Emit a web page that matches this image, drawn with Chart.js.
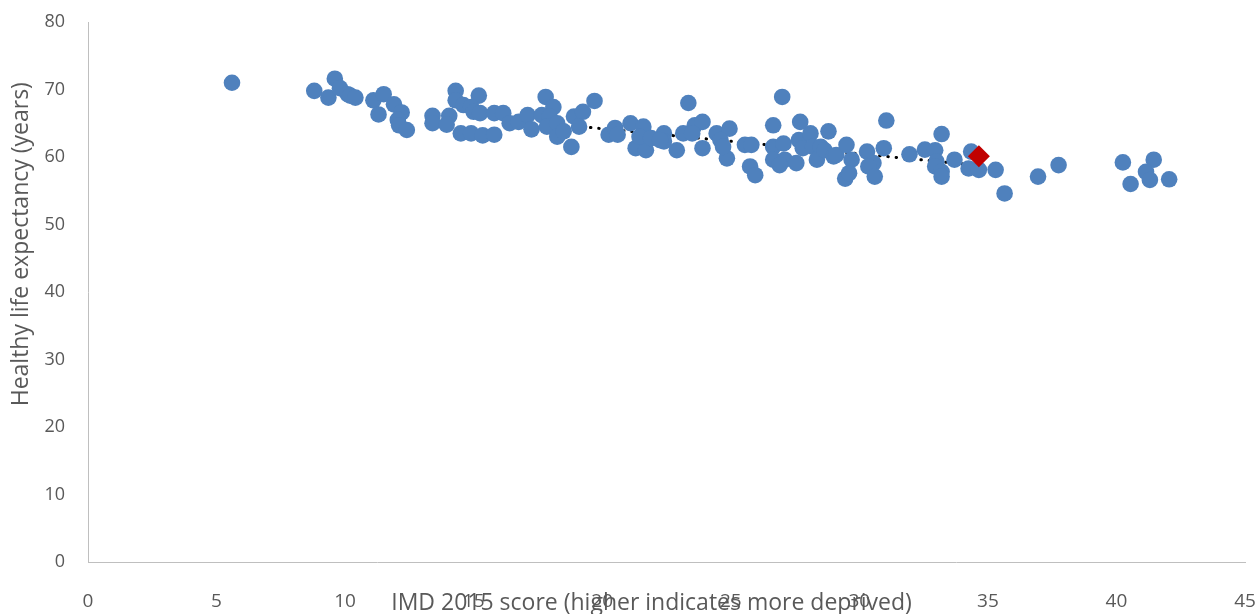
<!DOCTYPE html>
<html>
<head>
<meta charset="utf-8">
<script src="https://cdn.jsdelivr.net/npm/chart.js@4"></script>
<style>
  html, body { margin: 0; padding: 0; background: #fff; }
  #wrap { width: 1259px; height: 614px; }
</style>
</head>
<body>
<div id="wrap"><canvas id="grafico"></canvas></div>
<script>
// IMD 2015 score vs healthy life expectancy, one point per area
const imdScores = [
  5.6, 8.8, 9.35, 9.6, 9.8, 10.1, 10.2, 10.4, 11.1, 11.5,
  11.3, 11.9, 12.2, 12.05, 12.1, 12.4, 13.4, 13.4, 14.05, 13.95,
  14.3, 14.3, 14.6, 15.2, 14.9, 15.0, 15.25, 15.8, 14.5, 14.9,
  15.35, 15.8, 16.15, 16.4, 16.75, 17.1, 17.25, 17.8, 18.1, 17.65,
  17.95, 17.85, 18.25, 18.25, 18.5, 18.9, 19.25, 19.7, 18.8, 19.1,
  20.25, 20.5, 20.6, 21.1, 21.3, 21.6, 21.7, 21.45, 21.9, 22.4,
  22.4, 22.25, 22.9, 23.35, 23.15, 23.6, 23.9, 23.5, 23.9, 24.45,
  24.95, 24.6, 24.85, 24.7, 25.55, 25.8, 25.75, 25.95, 26.65, 27.0,
  26.65, 26.65, 27.05, 27.1, 26.9, 27.55, 27.7, 27.65, 27.8, 28.1,
  28.2, 28.5, 28.35, 28.8, 28.65, 29.0, 29.1, 29.5, 29.7, 29.45,
  29.6, 30.3, 30.55, 30.35, 30.6, 31.05, 30.95, 31.95, 32.55, 32.95,
  33.2, 33.0, 32.95, 33.2, 33.2, 33.7, 34.25, 34.35, 34.65, 35.3,
  35.65, 36.95, 37.75, 40.25, 41.45, 41.15, 40.55, 41.3, 42.05
];
const lifeExpectancy = [
  71.0, 69.8, 68.8, 71.6, 70.2, 69.3, 69.1, 68.8, 68.4, 69.3,
  66.3, 67.8, 66.6, 65.5, 64.7, 64.0, 66.1, 65.0, 66.1, 64.8,
  69.8, 68.4, 67.7, 69.1, 67.4, 66.7, 66.5, 66.5, 63.5, 63.5,
  63.2, 63.3, 66.5, 65.0, 65.2, 66.2, 64.1, 68.9, 67.4, 66.2,
  66.0, 64.5, 65.0, 63.0, 63.8, 66.0, 66.7, 68.3, 61.5, 64.5,
  63.3, 64.3, 63.3, 65.0, 61.3, 64.5, 61.0, 63.0, 62.8, 63.5,
  62.3, 62.5, 61.0, 68.0, 63.5, 64.7, 65.2, 63.5, 61.3, 63.5,
  64.2, 62.5, 59.8, 61.5, 61.8, 61.8, 58.6, 57.3, 64.7, 68.9,
  61.5, 59.6, 62.0, 59.6, 58.8, 59.1, 65.2, 62.5, 61.3, 63.5,
  61.5, 61.5, 59.6, 63.8, 61.0, 60.1, 60.3, 61.8, 59.6, 56.8,
  57.6, 60.8, 59.1, 58.6, 57.1, 65.4, 61.3, 60.4, 61.1, 61.0,
  63.4, 59.3, 58.6, 57.8, 57.1, 59.6, 58.3, 60.8, 58.1, 58.1,
  54.6, 57.1, 58.8, 59.2, 59.6, 57.8, 56.0, 56.6, 56.7
];

// highlighted area (red diamond)
const highlightX = [34.65];
const highlightY = [60.1];

// dotted trend line end points
const trendX = [18.9, 34.5];
const trendY = [64.6, 58.8];

const xTicks = [0, 5, 10, 15, 20, 25, 30, 35, 40, 45];
const yTicks = [0, 10, 20, 30, 40, 50, 60, 70, 80];

const toPoints = (xs, ys) => xs.map((x, i) => ({ x: x, y: ys[i] }));

const textColor = "#595959";
const fuente = "'Open Sans', 'Liberation Sans', sans-serif";

new Chart(document.getElementById("grafico").getContext("2d"), {
  type: "scatter",
  data: {
    datasets: [
      {
        label: "Trend",
        type: "line",
        data: toPoints(trendX, trendY),
        borderColor: "#000000",
        borderWidth: 3,
        borderDash: [0.5, 7.8],
        borderCapStyle: "round",
        pointRadius: 0,
        fill: false,
        order: 3
      },
      {
        label: "Areas",
        data: toPoints(imdScores, lifeExpectancy),
        backgroundColor: "#4F81BD",
        borderColor: "#4F81BD",
        borderWidth: 0,
        pointRadius: 8.3,
        order: 2
      },
      {
        label: "Highlighted",
        data: toPoints(highlightX, highlightY),
        pointStyle: "rectRot",
        backgroundColor: "#C00000",
        borderColor: "#C00000",
        borderWidth: 0,
        pointRadius: 11,
        order: 1
      }
    ]
  },
  options: {
    responsive: true,
    maintainAspectRatio: false,
    animation: false,
    layout: { padding: { top: 22, right: 14, left: 0, bottom: 0 } },
    plugins: {
      legend: { display: false },
      tooltip: { enabled: false }
    },
    scales: {
      x: {
        type: "linear",
        min: 0,
        max: 45,
        afterBuildTicks: s => { s.ticks = xTicks.map(v => ({ value: v })); },
        afterFit: s => { s.height = 52; s.paddingLeft = 0; s.paddingRight = 0; },
        grid: { display: false, drawTicks: false },
        border: { display: true, color: "#BFBFBF", width: 1 },
        ticks: { color: textColor, font: { family: fuente, size: 19 }, padding: 28, maxRotation: 0 },
        title: {
          display: true,
          // trailing spaces nudge the centred title a little to the left, as in the original
          text: "IMD 2015 score (higher indicates more deprived)     ",
          color: textColor,
          font: { family: fuente, size: 23 },
          padding: { top: 0, bottom: -3 }
        }
      },
      y: {
        type: "linear",
        min: 0,
        max: 80,
        afterBuildTicks: s => { s.ticks = yTicks.map(v => ({ value: v })); },
        afterFit: s => { s.width = 88; s.paddingTop = 0; s.paddingBottom = 0; },
        grid: { display: false, drawTicks: false },
        border: { display: true, color: "#BFBFBF", width: 1 },
        ticks: { color: textColor, font: { family: fuente, size: 18 }, padding: 23 },
        title: {
          display: true,
          // leading spaces push the title up, it sits above the middle in the original
          text: "                Healthy life expectancy (years)",
          color: textColor,
          font: { family: fuente, size: 23 },
          padding: { top: 8, bottom: 0 }
        }
      }
    }
  }
});
</script>
</body>
</html>
